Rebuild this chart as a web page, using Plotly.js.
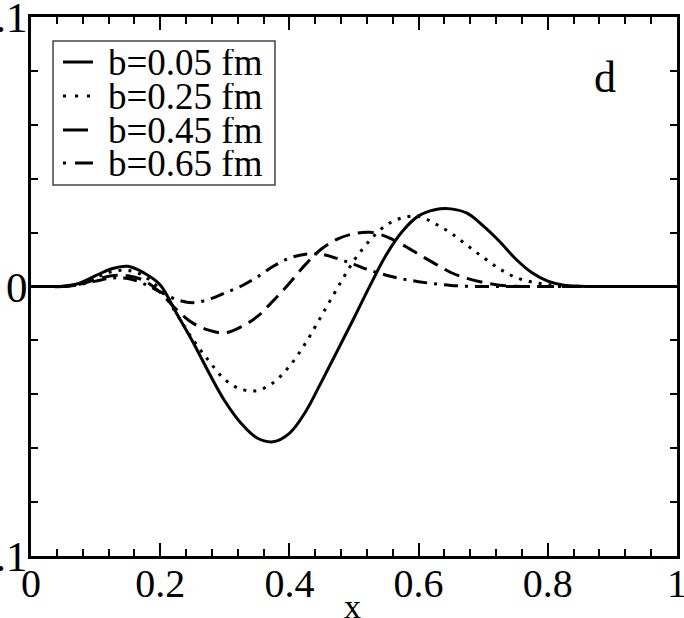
<!DOCTYPE html>
<html>
<head>
<meta charset="utf-8">
<script src="https://cdn.plot.ly/plotly-3.0.1.min.js"></script>
<style>
  html, body { margin: 0; padding: 0; background: #fff; }
  #chart { width: 684px; height: 618px; }
</style>
</head>
<body>
<div id="chart"></div>
<script>
// x grid shared by the four curves
const xs = [0, 0.025, 0.05, 0.075, 0.1, 0.125, 0.15, 0.175, 0.2, 0.225,
            0.25, 0.275, 0.3, 0.325, 0.35, 0.375, 0.4, 0.425, 0.45, 0.475,
            0.5, 0.525, 0.55, 0.575, 0.6, 0.625, 0.65, 0.675, 0.7, 0.725,
            0.75, 0.775, 0.8, 0.825, 0.85, 0.875, 0.9, 0.925, 0.95, 0.975, 1];

// values
const b005 = [0, 0, 0.0001, 0.0012, 0.0040, 0.0066, 0.0075, 0.0050, 0.0006, -0.0098,
              -0.0203, -0.0318, -0.0425, -0.0507, -0.0562, -0.0576, -0.0545, -0.0465, -0.0352, -0.0235,
              -0.0117, 0.0004, 0.0118, 0.0205, 0.0262, 0.0285, 0.0288, 0.0272, 0.0225, 0.0168,
              0.0103, 0.0052, 0.0020, 0.0005, 0.0001, 0, 0, 0, 0, 0, 0];

const b025 = [0, 0, 0.0001, 0.0010, 0.0033, 0.0055, 0.0060, 0.0038, -0.0012, -0.0100,
              -0.0195, -0.0275, -0.0345, -0.0381, -0.0386, -0.0357, -0.0296, -0.0210, -0.0107, -0.0003,
              0.0096, 0.0172, 0.0228, 0.0255, 0.0260, 0.0234, 0.0198, 0.0153, 0.0108, 0.0066,
              0.0034, 0.0017, 0.0007, 0.0001, 0, 0, 0, 0, 0, 0, 0];

const b045 = [0, 0, 0, 0.0008, 0.0025, 0.0040, 0.0040, 0.0022, -0.0022, -0.0085,
              -0.0135, -0.0162, -0.0172, -0.0150, -0.0112, -0.0053, 0.0012, 0.0082, 0.0140, 0.0177,
              0.0196, 0.0201, 0.0185, 0.0155, 0.0120, 0.0085, 0.0052, 0.0030, 0.0015, 0.0005,
              0.0001, 0, 0, 0, 0, 0, 0, 0, 0, 0, 0];

const b065 = [0, 0, 0, 0.0007, 0.0020, 0.0031, 0.0030, 0.0010, -0.0020, -0.0048,
              -0.0060, -0.0048, -0.0024, 0.0001, 0.0035, 0.0075, 0.0105, 0.0120, 0.0119, 0.0103,
              0.0082, 0.0060, 0.0042, 0.0028, 0.0018, 0.0010, 0.0004, 0.0001, 0, 0,
              0, 0, 0, 0, 0, 0, 0, 0, 0, 0, 0];

const names = ['b=0.05 fm', 'b=0.25 fm', 'b=0.45 fm', 'b=0.65 fm'];
const dashes = ['solid', '3px,7px', '16px,8px', '14px,7px,3px,7px'];
const legendDashes = ['solid', '3px,9px', '25px,10px', '3px,9px,18px,9px'];

const xTicks = [0, 0.2, 0.4, 0.6, 0.8, 1];
const xTickText = ['0', '0.2', '0.4', '0.6', '0.8', '1'];
const yTicks = [-0.1, 0, 0.1];
const yTickText = ['-0.1', '0', '0.1'];

const FONT = 'Liberation Serif, Times New Roman, serif';

function makeTraces() {
    return [b005, b025, b045, b065].map((ys, i) => ({
        x: xs,
        y: ys,
        type: 'scatter',
        mode: 'lines',
        name: names[i],
        showlegend: false,
        line: {color: '#000', width: 3, dash: dashes[i], shape: 'spline', smoothing: 1}
    }));
}

// hand-made legend: box, line samples and labels in paper units
function makeLegend() {
    const rowY = [0.9165, 0.8534, 0.7904, 0.7291];
    const shapes = [{
        type: 'rect', xref: 'paper', yref: 'paper',
        x0: 0.0341, x1: 0.3777, y0: 0.6883, y1: 0.9555,
        line: {color: '#444', width: 1.5}, fillcolor: '#fff', layer: 'above'
    }];
    const annos = [];
    names.forEach((n, i) => {
        shapes.push({
            type: 'line', xref: 'paper', yref: 'paper',
            x0: 0.0495, x1: 0.096, y0: rowY[i], y1: rowY[i],
            line: {color: '#000', width: 3, dash: legendDashes[i]}, layer: 'above'
        });
        annos.push({
            text: n, xref: 'paper', yref: 'paper',
            x: 0.117, y: rowY[i], xanchor: 'left', yanchor: 'middle',
            height: 26, valign: 'middle', borderpad: 0,
            showarrow: false,
            font: {family: FONT, size: 37, color: '#000'}
        });
    });
    return {shapes, annos};
}

const axisBase = {
    showline: true,
    linecolor: '#000',
    linewidth: 3,
    mirror: 'allticks',
    ticks: 'inside',
    ticklen: 13,
    tickwidth: 2,
    tickcolor: '#000',
    showgrid: false,
    zeroline: false,
    ticklabeloverflow: 'allow'
};

const legend = makeLegend();

const layout = {
    width: 684,
    height: 618,
    margin: {l: 31, r: 7, t: 17, b: 62},
    paper_bgcolor: '#fff',
    plot_bgcolor: '#fff',
    font: {family: FONT, color: '#000'},
    showlegend: false,
    xaxis: Object.assign({}, axisBase, {
        range: [0, 1],
        tickmode: 'array',
        tickvals: xTicks,
        ticktext: xTickText,
        tickfont: {family: FONT, size: 40, color: '#000'},
        ticklabelstandoff: -10,
        minor: {dtick: 0.04, tick0: 0, ticklen: 7, tickwidth: 2, tickcolor: '#000', ticks: 'inside'}
    }),
    yaxis: Object.assign({}, axisBase, {
        range: [-0.1, 0.1],
        tickmode: 'array',
        tickvals: yTicks,
        ticktext: yTickText,
        tickfont: {family: FONT, size: 43, color: '#000'},
        ticklabelstandoff: -8,
        minor: {dtick: 0.02, tick0: 0, ticklen: 7, tickwidth: 2, tickcolor: '#000', ticks: 'inside'}
    }),
    shapes: legend.shapes,
    annotations: legend.annos.concat([
        {
            text: 'd',
            xref: 'paper', yref: 'paper',
            x: 0.889, y: 0.888,
            xanchor: 'center', yanchor: 'middle',
            showarrow: false,
            font: {family: FONT, size: 44, color: '#000'}
        },
        {
            // x axis title, placed lower than the axis title margin allows
            text: 'x',
            xref: 'paper', yref: 'paper',
            x: 0.497, y: -0.093,
            xanchor: 'center', yanchor: 'middle',
            showarrow: false,
            font: {family: FONT, size: 34, color: '#000'}
        }
    ])
};

Plotly.newPlot('chart', makeTraces(), layout, {displayModeBar: false, staticPlot: true});
</script>
</body>
</html>
